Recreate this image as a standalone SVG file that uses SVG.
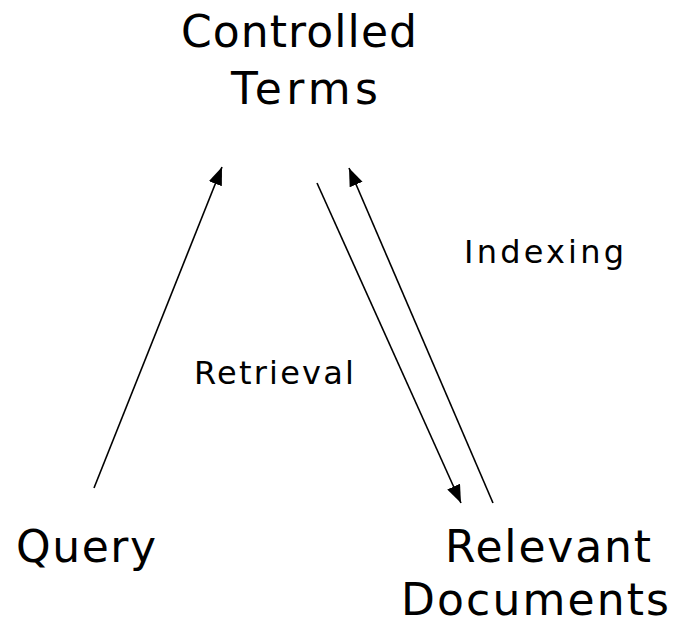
<svg xmlns="http://www.w3.org/2000/svg" width="675" height="620" viewBox="0 0 675 620">
<defs>
<style>
text{font-family:"DejaVu Sans","Liberation Sans",Arial,sans-serif;fill:#000}
.big{font-size:44px}
.lbl{font-size:32px}
.edge{stroke:#000;stroke-width:1.6;fill:none}
</style>
<marker id="ah" markerUnits="userSpaceOnUse" markerWidth="20" markerHeight="16" refX="18" refY="7" orient="auto">
<path d="M0,0 L18,7 L0,14 z" fill="#000"/>
</marker>
</defs>
<rect width="675" height="620" fill="#fff"/>
<g id="connectors">
<path class="edge" d="M94,488 L222,167" marker-end="url(#ah)"/>
<path class="edge" d="M317,183 L461,503" marker-end="url(#ah)"/>
<path class="edge" d="M493,503 L349,168" marker-end="url(#ah)"/>
<text class="lbl" x="194" y="384" textLength="160" lengthAdjust="spacing">Retrieval</text>
<text class="lbl" x="464" y="263" textLength="160" lengthAdjust="spacing">Indexing</text>
</g>
<g id="controlled-terms">
<text class="big" x="181" y="47" textLength="236" lengthAdjust="spacing">Controlled</text>
<text class="big" x="231" y="104" textLength="147" lengthAdjust="spacing">Terms</text>
</g>
<g id="query">
<text class="big" x="16" y="562" textLength="140" lengthAdjust="spacing">Query</text>
</g>
<g id="relevant-documents">
<text class="big" x="445" y="562" textLength="206" lengthAdjust="spacing">Relevant</text>
<text class="big" x="401" y="615" textLength="268" lengthAdjust="spacing">Documents</text>
</g>
</svg>
